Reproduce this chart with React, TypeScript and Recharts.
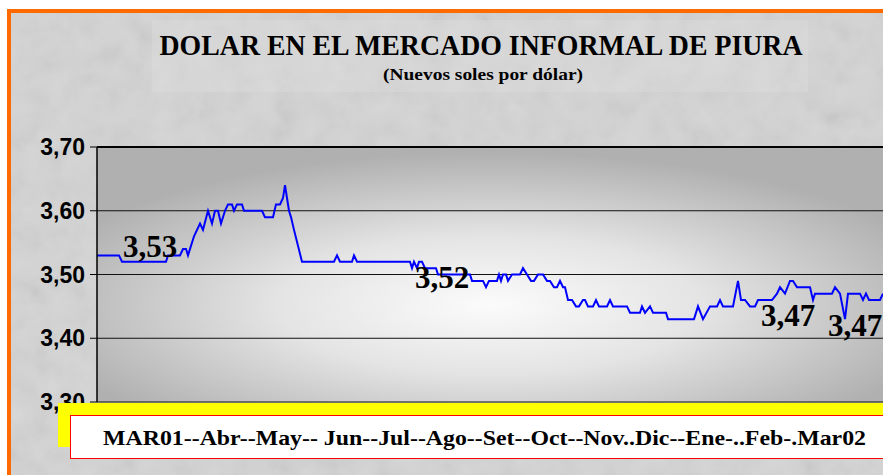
import { LineChart, Line, XAxis, YAxis, CartesianGrid, ReferenceLine } from 'recharts';

// trading-day index (x) and exchange rate (soles per dollar), Mar01 - Mar02
const dias = [
  0, 22, 25, 69, 71, 83, 86, 89, 91, 97, 103, 106, 111, 115, 118, 121, 124, 128, 131, 135,
  137, 140, 145, 147, 165, 168, 176, 179, 183, 186, 188, 192, 194, 197, 205, 237, 240, 243, 255, 257,
  260, 313, 315, 317, 320, 322, 325, 328, 339, 341, 373, 375, 386, 389, 392, 400, 402, 404, 406, 409,
  411, 415, 423, 426, 430, 434, 437, 441, 446, 450, 453, 457, 460, 463, 466, 468, 471, 475, 479, 482,
  486, 488, 491, 496, 499, 502, 510, 513, 516, 530, 533, 543, 545, 548, 553, 556, 569, 571, 597, 601,
  606, 613, 620, 623, 626, 636, 641, 644, 648, 653, 658, 661, 675, 680, 683, 688, 693, 696, 700, 713,
  716, 718, 735, 738, 743, 748, 751, 763, 766, 769, 772, 783, 786,
];
const valores = [
  3.53, 3.53, 3.52, 3.52, 3.53, 3.53, 3.54, 3.54, 3.53, 3.56, 3.58, 3.57, 3.6, 3.58, 3.6, 3.6, 3.58, 3.6, 3.61, 3.61,
  3.6, 3.61, 3.61, 3.6, 3.6, 3.59, 3.59, 3.61, 3.61, 3.62, 3.64, 3.6, 3.59, 3.57, 3.52, 3.52, 3.53, 3.52, 3.52, 3.53,
  3.52, 3.52, 3.51, 3.52, 3.51, 3.52, 3.52, 3.51, 3.51, 3.5, 3.5, 3.49, 3.49, 3.48, 3.49, 3.49, 3.5, 3.49, 3.5, 3.5,
  3.49, 3.5, 3.5, 3.51, 3.5, 3.49, 3.49, 3.5, 3.5, 3.49, 3.49, 3.48, 3.48, 3.49, 3.48, 3.48, 3.46, 3.46, 3.45, 3.45,
  3.46, 3.46, 3.45, 3.45, 3.46, 3.45, 3.45, 3.46, 3.45, 3.45, 3.44, 3.44, 3.45, 3.44, 3.45, 3.44, 3.44, 3.43, 3.43, 3.45,
  3.43, 3.45, 3.45, 3.46, 3.45, 3.45, 3.49, 3.46, 3.46, 3.45, 3.45, 3.46, 3.46, 3.47, 3.48, 3.47, 3.49, 3.49, 3.48, 3.48,
  3.46, 3.47, 3.47, 3.48, 3.47, 3.43, 3.47, 3.47, 3.46, 3.47, 3.46, 3.46, 3.47,
];

// value labels written on the plot
const etiquetaDias = [53, 345, 691, 731];
const etiquetaValores = [3.52, 3.5, 3.46, 3.46];
const etiquetaTextos = ['3,53', '3,52', '3,47', '3,47'];

const yTicks = [3.3, 3.4, 3.5, 3.6, 3.7];
const title = 'DOLAR EN EL MERCADO INFORMAL DE PIURA';
const subtitle = '(Nuevos soles por dólar)';
const meses = 'MAR01--Abr--May-- Jun--Jul--Ago--Set--Oct--Nov..Dic--Ene-..Feb-.Mar02';

const data = dias.map((d, i) => ({ d, v: valores[i] }));
const etiquetas = etiquetaDias.map((d, i) => ({ d, v: etiquetaValores[i] }));

// per-label placement: [dx, dy, anchor]
const labelPos: [number, number, 'middle' | 'start'][] = [
  [0, -5, 'middle'],
  [0, 13, 'middle'],
  [0, 26, 'middle'],
  [0, 36, 'start'],
];

const serif = '"Liberation Serif", "Times New Roman", serif';
const sans = '"Liberation Sans", Arial, sans-serif';

const renderEtiqueta = (props: any) => {
  const { x, y, index } = props;
  const [dx, dy, anchor] = labelPos[index];
  return (
    <text
      key={index}
      x={x + dx}
      y={y + dy}
      textAnchor={anchor}
      fontFamily={serif}
      fontWeight="bold"
      fontSize={31}
      fill="#000"
    >
      {etiquetaTextos[index]}
    </text>
  );
};

const YTick = (props: any) => {
  const { x, y, payload } = props;
  return (
    <text x={x} y={y} dy={8} textAnchor="end" fontFamily={sans} fontWeight="bold" fontSize={23} fill="#000">
      {payload.value.toFixed(2).replace('.', ',')}
    </text>
  );
};

export default function App() {
  return (
    <div
      style={{
        position: 'absolute',
        left: 0,
        top: 0,
        width: 883,
        height: 475,
        overflow: 'hidden',
        background: '#fff',
      }}
    >
      <svg width={883} height={475} style={{ position: 'absolute', left: 0, top: 0 }}>
        <defs>
          <filter id="grain" x="0" y="0" width="100%" height="100%">
            <feTurbulence type="fractalNoise" baseFrequency="0.04" numOctaves={3} seed={4} />
            <feColorMatrix type="saturate" values="0" />
          </filter>
        </defs>
        <rect x={9} y={11} width={874} height={464} fill="#d4d4d4" />
        <rect x={9} y={11} width={874} height={464} filter="url(#grain)" opacity={0.2} />
        <rect x={152} y={20} width={656} height={72} fill="#e2e2e2" opacity={0.3} />
        <rect x={7} y={9} width={876} height={4} fill="#ff6a00" />
        <rect x={7} y={9} width={4} height={466} fill="#ff6a00" />
        <text x={481} y={55} textAnchor="middle" fontFamily={serif} fontWeight="bold" fontSize={29} textLength={643} lengthAdjust="spacingAndGlyphs">
          {title}
        </text>
        <text x={483} y={80} textAnchor="middle" fontFamily={serif} fontWeight="bold" fontSize={16} textLength={200} lengthAdjust="spacingAndGlyphs">
          {subtitle}
        </text>
      </svg>

      <div style={{ position: 'absolute', left: 0, top: 0 }}>
        <LineChart width={883} height={475} margin={{ top: 147, right: 0, bottom: 73, left: 37 }}>
          <defs>
            <radialGradient id="plotBg" cx="0.5" cy="0.62" r="0.6">
              <stop offset="0%" stopColor="#fbfbfb" />
              <stop offset="45%" stopColor="#e4e4e4" />
              <stop offset="100%" stopColor="#b0b0b0" />
            </radialGradient>
          </defs>
          <CartesianGrid vertical={false} stroke="#111" fill="url(#plotBg)" fillOpacity={1} />
          <XAxis dataKey="d" type="number" domain={[0, 786]} hide height={0} allowDuplicatedCategory={false} />
          <YAxis
            type="number"
            domain={[3.3, 3.7]}
            ticks={yTicks}
            width={60}
            tick={<YTick />}
            tickSize={7}
            tickMargin={5}
            axisLine={{ stroke: '#000', strokeWidth: 1.5 }}
            tickLine={{ stroke: '#000' }}
            interval={0}
          />
          <ReferenceLine y={3.7} stroke="#000" strokeWidth={2} />
          <Line
            data={data}
            dataKey="v"
            type="linear"
            stroke="#0000ff"
            strokeWidth={2}
            dot={false}
            isAnimationActive={false}
          />
          <Line
            data={etiquetas}
            dataKey="v"
            type="linear"
            stroke="none"
            dot={false}
            label={renderEtiqueta}
            isAnimationActive={false}
          />
        </LineChart>
      </div>

      <svg width={883} height={475} style={{ position: 'absolute', left: 0, top: 0 }}>
        <rect x={58} y={403} width={840} height={44} fill="#ffff00" />
        <rect x={70.5} y={415.5} width={830} height={43} fill="#fff" stroke="#ff0000" strokeWidth={1} />
        <text x={103} y={445} fontFamily={serif} fontWeight="bold" fontSize={21} textLength={763} lengthAdjust="spacingAndGlyphs">
          {meses}
        </text>
      </svg>
    </div>
  );
}
